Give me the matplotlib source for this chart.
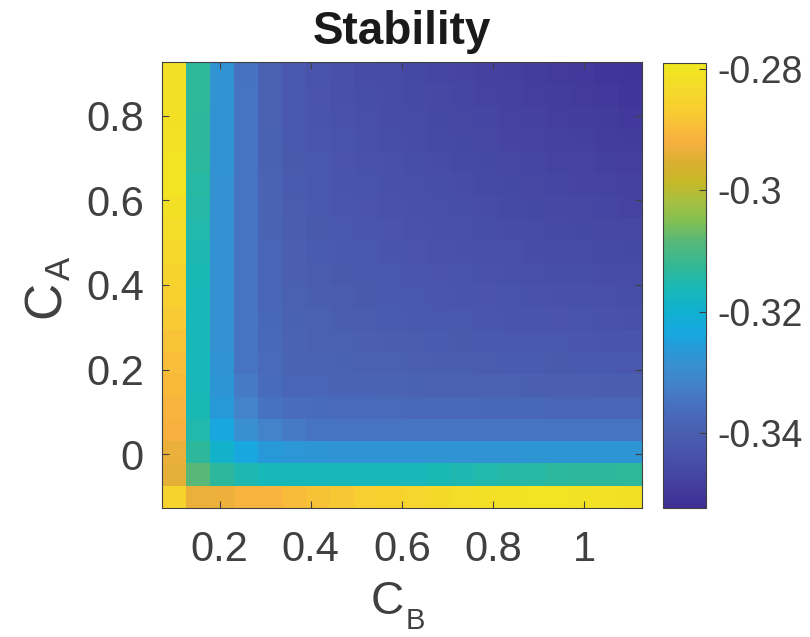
import numpy as np
import matplotlib
matplotlib.use("Agg")
import matplotlib.pyplot as plt
from matplotlib.colors import LinearSegmentedColormap
from matplotlib.ticker import FormatStrFormatter

plt.rcParams['font.family'] = ['Liberation Sans', 'DejaVu Sans']
plt.rcParams['axes.unicode_minus'] = False

# grid of concentrations
c_b = np.linspace(0.1, 1.1, 20)
c_a = np.linspace(-0.1, 0.9, 20)

# stability values, one row per C_A (bottom row first), one column per C_B
stability = np.array([
    [-0.2855, -0.2935, -0.2930, -0.2915, -0.2910, -0.2900, -0.2888, -0.2878, -0.2866, -0.2856, -0.2846, -0.2836, -0.2826, -0.2817, -0.2810, -0.2806, -0.2806, -0.2808, -0.2810, -0.2812],
    [-0.2940, -0.3083, -0.3131, -0.3155, -0.3164, -0.3166, -0.3166, -0.3166, -0.3166, -0.3166, -0.3166, -0.3160, -0.3155, -0.3150, -0.3145, -0.3140, -0.3136, -0.3133, -0.3131, -0.3130],
    [-0.2935, -0.3131, -0.3193, -0.3237, -0.3262, -0.3268, -0.3272, -0.3276, -0.3276, -0.3276, -0.3276, -0.3276, -0.3276, -0.3276, -0.3276, -0.3272, -0.3272, -0.3272, -0.3272, -0.3272],
    [-0.2918, -0.3150, -0.3237, -0.3290, -0.3320, -0.3335, -0.3348, -0.3348, -0.3348, -0.3348, -0.3348, -0.3348, -0.3348, -0.3348, -0.3348, -0.3348, -0.3348, -0.3348, -0.3348, -0.3348],
    [-0.2912, -0.3160, -0.3260, -0.3320, -0.3350, -0.3362, -0.3366, -0.3369, -0.3371, -0.3373, -0.3375, -0.3376, -0.3377, -0.3378, -0.3379, -0.3380, -0.3381, -0.3382, -0.3383, -0.3384],
    [-0.2903, -0.3165, -0.3272, -0.3335, -0.3365, -0.3382, -0.3385, -0.3387, -0.3389, -0.3391, -0.3393, -0.3395, -0.3396, -0.3398, -0.3399, -0.3401, -0.3402, -0.3403, -0.3404, -0.3406],
    [-0.2893, -0.3165, -0.3276, -0.3348, -0.3372, -0.3387, -0.3391, -0.3394, -0.3397, -0.3400, -0.3402, -0.3404, -0.3406, -0.3408, -0.3410, -0.3412, -0.3414, -0.3416, -0.3417, -0.3419],
    [-0.2885, -0.3165, -0.3280, -0.3348, -0.3376, -0.3391, -0.3396, -0.3400, -0.3403, -0.3406, -0.3409, -0.3412, -0.3414, -0.3417, -0.3419, -0.3421, -0.3423, -0.3426, -0.3428, -0.3429],
    [-0.2875, -0.3165, -0.3280, -0.3348, -0.3379, -0.3394, -0.3400, -0.3405, -0.3409, -0.3412, -0.3416, -0.3419, -0.3422, -0.3424, -0.3427, -0.3429, -0.3432, -0.3434, -0.3437, -0.3439],
    [-0.2862, -0.3165, -0.3280, -0.3348, -0.3381, -0.3398, -0.3404, -0.3409, -0.3413, -0.3417, -0.3421, -0.3425, -0.3428, -0.3431, -0.3434, -0.3437, -0.3440, -0.3442, -0.3445, -0.3447],
    [-0.2850, -0.3160, -0.3280, -0.3348, -0.3383, -0.3401, -0.3408, -0.3413, -0.3418, -0.3422, -0.3426, -0.3430, -0.3434, -0.3437, -0.3440, -0.3444, -0.3447, -0.3449, -0.3452, -0.3455],
    [-0.2838, -0.3155, -0.3280, -0.3348, -0.3385, -0.3403, -0.3411, -0.3417, -0.3422, -0.3427, -0.3431, -0.3435, -0.3439, -0.3443, -0.3446, -0.3450, -0.3453, -0.3456, -0.3459, -0.3462],
    [-0.2826, -0.3150, -0.3280, -0.3348, -0.3387, -0.3406, -0.3414, -0.3421, -0.3426, -0.3431, -0.3436, -0.3440, -0.3444, -0.3448, -0.3452, -0.3456, -0.3459, -0.3463, -0.3466, -0.3469],
    [-0.2812, -0.3145, -0.3280, -0.3348, -0.3389, -0.3409, -0.3417, -0.3424, -0.3430, -0.3435, -0.3440, -0.3445, -0.3449, -0.3454, -0.3458, -0.3462, -0.3465, -0.3469, -0.3472, -0.3476],
    [-0.2806, -0.3140, -0.3280, -0.3348, -0.3391, -0.3411, -0.3420, -0.3427, -0.3434, -0.3439, -0.3445, -0.3449, -0.3454, -0.3459, -0.3463, -0.3467, -0.3471, -0.3475, -0.3478, -0.3482],
    [-0.2806, -0.3136, -0.3278, -0.3348, -0.3393, -0.3413, -0.3423, -0.3430, -0.3437, -0.3443, -0.3449, -0.3454, -0.3459, -0.3463, -0.3468, -0.3472, -0.3476, -0.3480, -0.3484, -0.3488],
    [-0.2810, -0.3133, -0.3278, -0.3348, -0.3394, -0.3415, -0.3425, -0.3433, -0.3440, -0.3447, -0.3452, -0.3458, -0.3463, -0.3468, -0.3473, -0.3477, -0.3481, -0.3486, -0.3490, -0.3494],
    [-0.2813, -0.3131, -0.3278, -0.3348, -0.3396, -0.3418, -0.3428, -0.3436, -0.3444, -0.3450, -0.3456, -0.3462, -0.3467, -0.3472, -0.3477, -0.3482, -0.3487, -0.3491, -0.3495, -0.3499],
    [-0.2815, -0.3130, -0.3278, -0.3348, -0.3397, -0.3420, -0.3430, -0.3439, -0.3447, -0.3454, -0.3460, -0.3466, -0.3471, -0.3477, -0.3482, -0.3487, -0.3491, -0.3496, -0.3500, -0.3505],
    [-0.2818, -0.3130, -0.3278, -0.3350, -0.3398, -0.3422, -0.3433, -0.3442, -0.3450, -0.3457, -0.3463, -0.3470, -0.3475, -0.3481, -0.3486, -0.3491, -0.3496, -0.3501, -0.3506, -0.3510],
])

c_min, c_max = -0.3524, -0.2789
cbar_ticks = [-0.34, -0.32, -0.3, -0.28]
x_ticks = [0.2, 0.4, 0.6, 0.8, 1.0]
y_ticks = [0, 0.2, 0.4, 0.6, 0.8]

# parula-like map, as it looks in the exported figure
parula = LinearSegmentedColormap.from_list("parula_ish", [
    (0.00, "#3d2e93"), (0.05, "#4440a0"), (0.11, "#4850a8"), (0.17, "#4a60b0"),
    (0.23, "#4870c0"), (0.27, "#4480c8"), (0.32, "#3890d0"), (0.355, "#2898d8"),
    (0.39, "#18a8e0"), (0.44, "#10b0d0"), (0.49, "#18b8b8"), (0.54, "#30b898"),
    (0.60, "#58b878"), (0.65, "#88c050"), (0.69, "#a8c040"), (0.735, "#c8b828"),
    (0.775, "#d8b030"), (0.825, "#f8b040"), (0.90, "#f8d030"), (1.00, "#f0e820"),
])

txt = "#404040"
W, H = 810, 637
fig = plt.figure(figsize=(W / 100, H / 100), dpi=100)
ax = fig.add_axes([0.2, 0.2025, 0.5926, 0.7002])
mesh = ax.pcolormesh(c_b, c_a, stability, shading="nearest", cmap=parula,
                     vmin=c_min, vmax=c_max)
ax.margins(0)

ax.set_xticks(x_ticks)
ax.set_yticks(y_ticks)
ax.xaxis.set_major_formatter(FormatStrFormatter('%g'))
ax.yaxis.set_major_formatter(FormatStrFormatter('%g'))
ax.tick_params(direction="in", length=5, width=0.8, color=txt, labelcolor=txt,
               labelsize=30, top=True, right=True)
ax.tick_params(axis="x", pad=16)
ax.tick_params(axis="y", pad=13)
for s in ax.spines.values():
    s.set_color(txt)
    s.set_linewidth(0.8)

ax.set_title("Stability", fontsize=33, fontweight="bold", color="#1a1a1a", pad=13)

# axis labels with MATLAB-like subscripts (pixel positions)
fig.text(404 / W, 1 - 614 / H, "C", fontsize=33, color=txt, ha="right", va="baseline")
fig.text(406 / W, 1 - 629 / H, "B", fontsize=21, color=txt, ha="left", va="baseline")
fig.text(60 / W, 1 - 299 / H, "C", fontsize=37, color=txt, rotation=90,
         rotation_mode="anchor", ha="center", va="baseline")
fig.text(70 / W, 1 - 268 / H, "A", fontsize=25, color=txt, rotation=90,
         rotation_mode="anchor", ha="center", va="baseline")

cax = fig.add_axes([0.8185, 0.203, 0.0531, 0.6986])
cb = fig.colorbar(mesh, cax=cax, ticks=cbar_ticks)
cb.ax.yaxis.set_major_formatter(FormatStrFormatter('%g'))
cb.ax.tick_params(direction="in", length=5, width=0.8, color=txt, labelcolor=txt,
                  labelsize=27, pad=8)
cb.outline.set_edgecolor(txt)
cb.outline.set_linewidth(0.8)

fig.savefig("out.png", dpi=100)
